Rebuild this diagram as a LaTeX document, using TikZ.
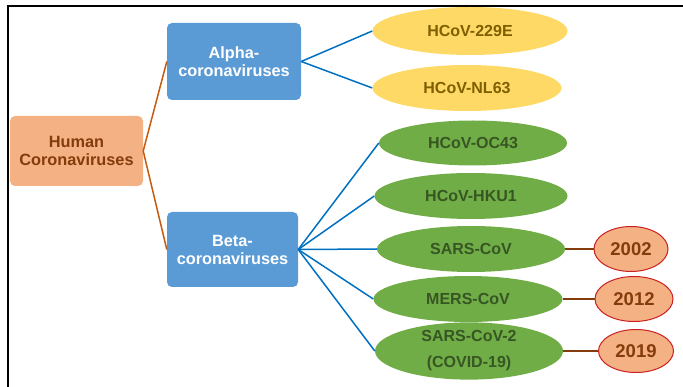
\documentclass[tikz,border=0pt]{standalone}
\usepackage{fontspec}
\setmainfont{Liberation Sans}
\usepackage{tikz}
\usepackage{xcolor}
\usetikzlibrary{shapes.geometric}
\definecolor{peach}{HTML}{F4B183}
\definecolor{rust}{HTML}{843C0C}
\definecolor{copper}{HTML}{C55A11}
\definecolor{steel}{HTML}{5B9BD5}
\definecolor{linkblue}{HTML}{0070C0}
\definecolor{gold}{HTML}{FFD966}
\definecolor{darkgold}{HTML}{7F6000}
\definecolor{leaf}{HTML}{70AD47}
\definecolor{darkleaf}{HTML}{375623}
\definecolor{yearred}{HTML}{CC1F1F}
\tikzset{
    group-box/.style = {fill=steel, text=white, rectangle, rounded corners=5pt, inner sep=0pt, align=center, font=\bfseries\fontsize{16.3}{18}\selectfont},
    root-box/.style = {group-box, fill=peach, text=rust},
    alpha-ellipse/.style = {ellipse, fill=gold, text=darkgold, inner sep=0pt, font=\bfseries\fontsize{16}{18}\selectfont},
    beta-ellipse/.style = {alpha-ellipse, fill=leaf, text=darkleaf, align=center},
    year-ellipse/.style = {ellipse, draw=yearred, line width=1pt, fill=peach, text=rust, inner sep=0pt, font=\bfseries\fontsize{18.5}{20}\selectfont},
    root-link/.style = {draw=copper, line width=1.5pt},
    group-link/.style = {draw=linkblue, line width=1.5pt},
    year-link/.style = {draw=rust, line width=1.5pt},
}
\begin{document}
\begin{tikzpicture}[x=1pt, y=-1pt]
\useasboundingbox (0,0) rectangle (683,387);
\draw[line width=2pt] (683,6) -- (8,6) -- (8,387);

% tree: root, the two genera, then the viruses
\node[root-box, minimum width=133pt, minimum height=70pt] (human) at (76.5,151) {Human\\Coronaviruses};
\node[group-box, minimum width=134pt, minimum height=77pt] (alpha) at (234,61.5) {Alpha-\\coronaviruses};
\node[group-box, minimum width=131pt, minimum height=75pt] (beta) at (232.5,249.5) {Beta-\\coronaviruses};

\node[alpha-ellipse, minimum width=195pt, minimum height=48pt] (e229) at (470,31) {HCoV-229E};
\node[alpha-ellipse, minimum width=189pt, minimum height=46pt] (nl63) at (467,88) {HCoV-NL63};

\node[beta-ellipse, minimum width=188pt, minimum height=45pt] (oc43) at (473,143) {HCoV-OC43};
\node[beta-ellipse, minimum width=193pt, minimum height=46pt] (hku1) at (471,196) {HCoV-HKU1};
\node[beta-ellipse, minimum width=188pt, minimum height=46pt] (sars) at (471,249) {SARS-CoV};
\node[beta-ellipse, minimum width=189pt, minimum height=46pt] (mers) at (468,299) {MERS-CoV};
\node[beta-ellipse, minimum width=188pt, minimum height=48pt] (sars2) at (469,351) {SARS-CoV-2\\[8pt](COVID-19)};

\node[year-ellipse, minimum width=74pt, minimum height=45pt] (y2002) at (631,249) {2002};
\node[year-ellipse, minimum width=78pt, minimum height=45pt] (y2012) at (634,299) {2012};
\node[year-ellipse, minimum width=75pt, minimum height=43pt] (y2019) at (636,351) {2019};

% links
\draw[root-link] (human.east) -- (alpha.west);
\draw[root-link] (human.east) -- (beta.west);
\foreach \v in {e229, nl63}
    \draw[group-link] (alpha.east) -- (\v.west);
\foreach \v in {oc43, hku1, sars, mers, sars2}
    \draw[group-link] (beta.east) -- (\v.west);
\draw[year-link] (sars.east) -- (y2002.west);
\draw[year-link] (mers.east) -- (y2012.west);
\draw[year-link] (sars2.east) -- (y2019.west);
\end{tikzpicture}
\end{document}
